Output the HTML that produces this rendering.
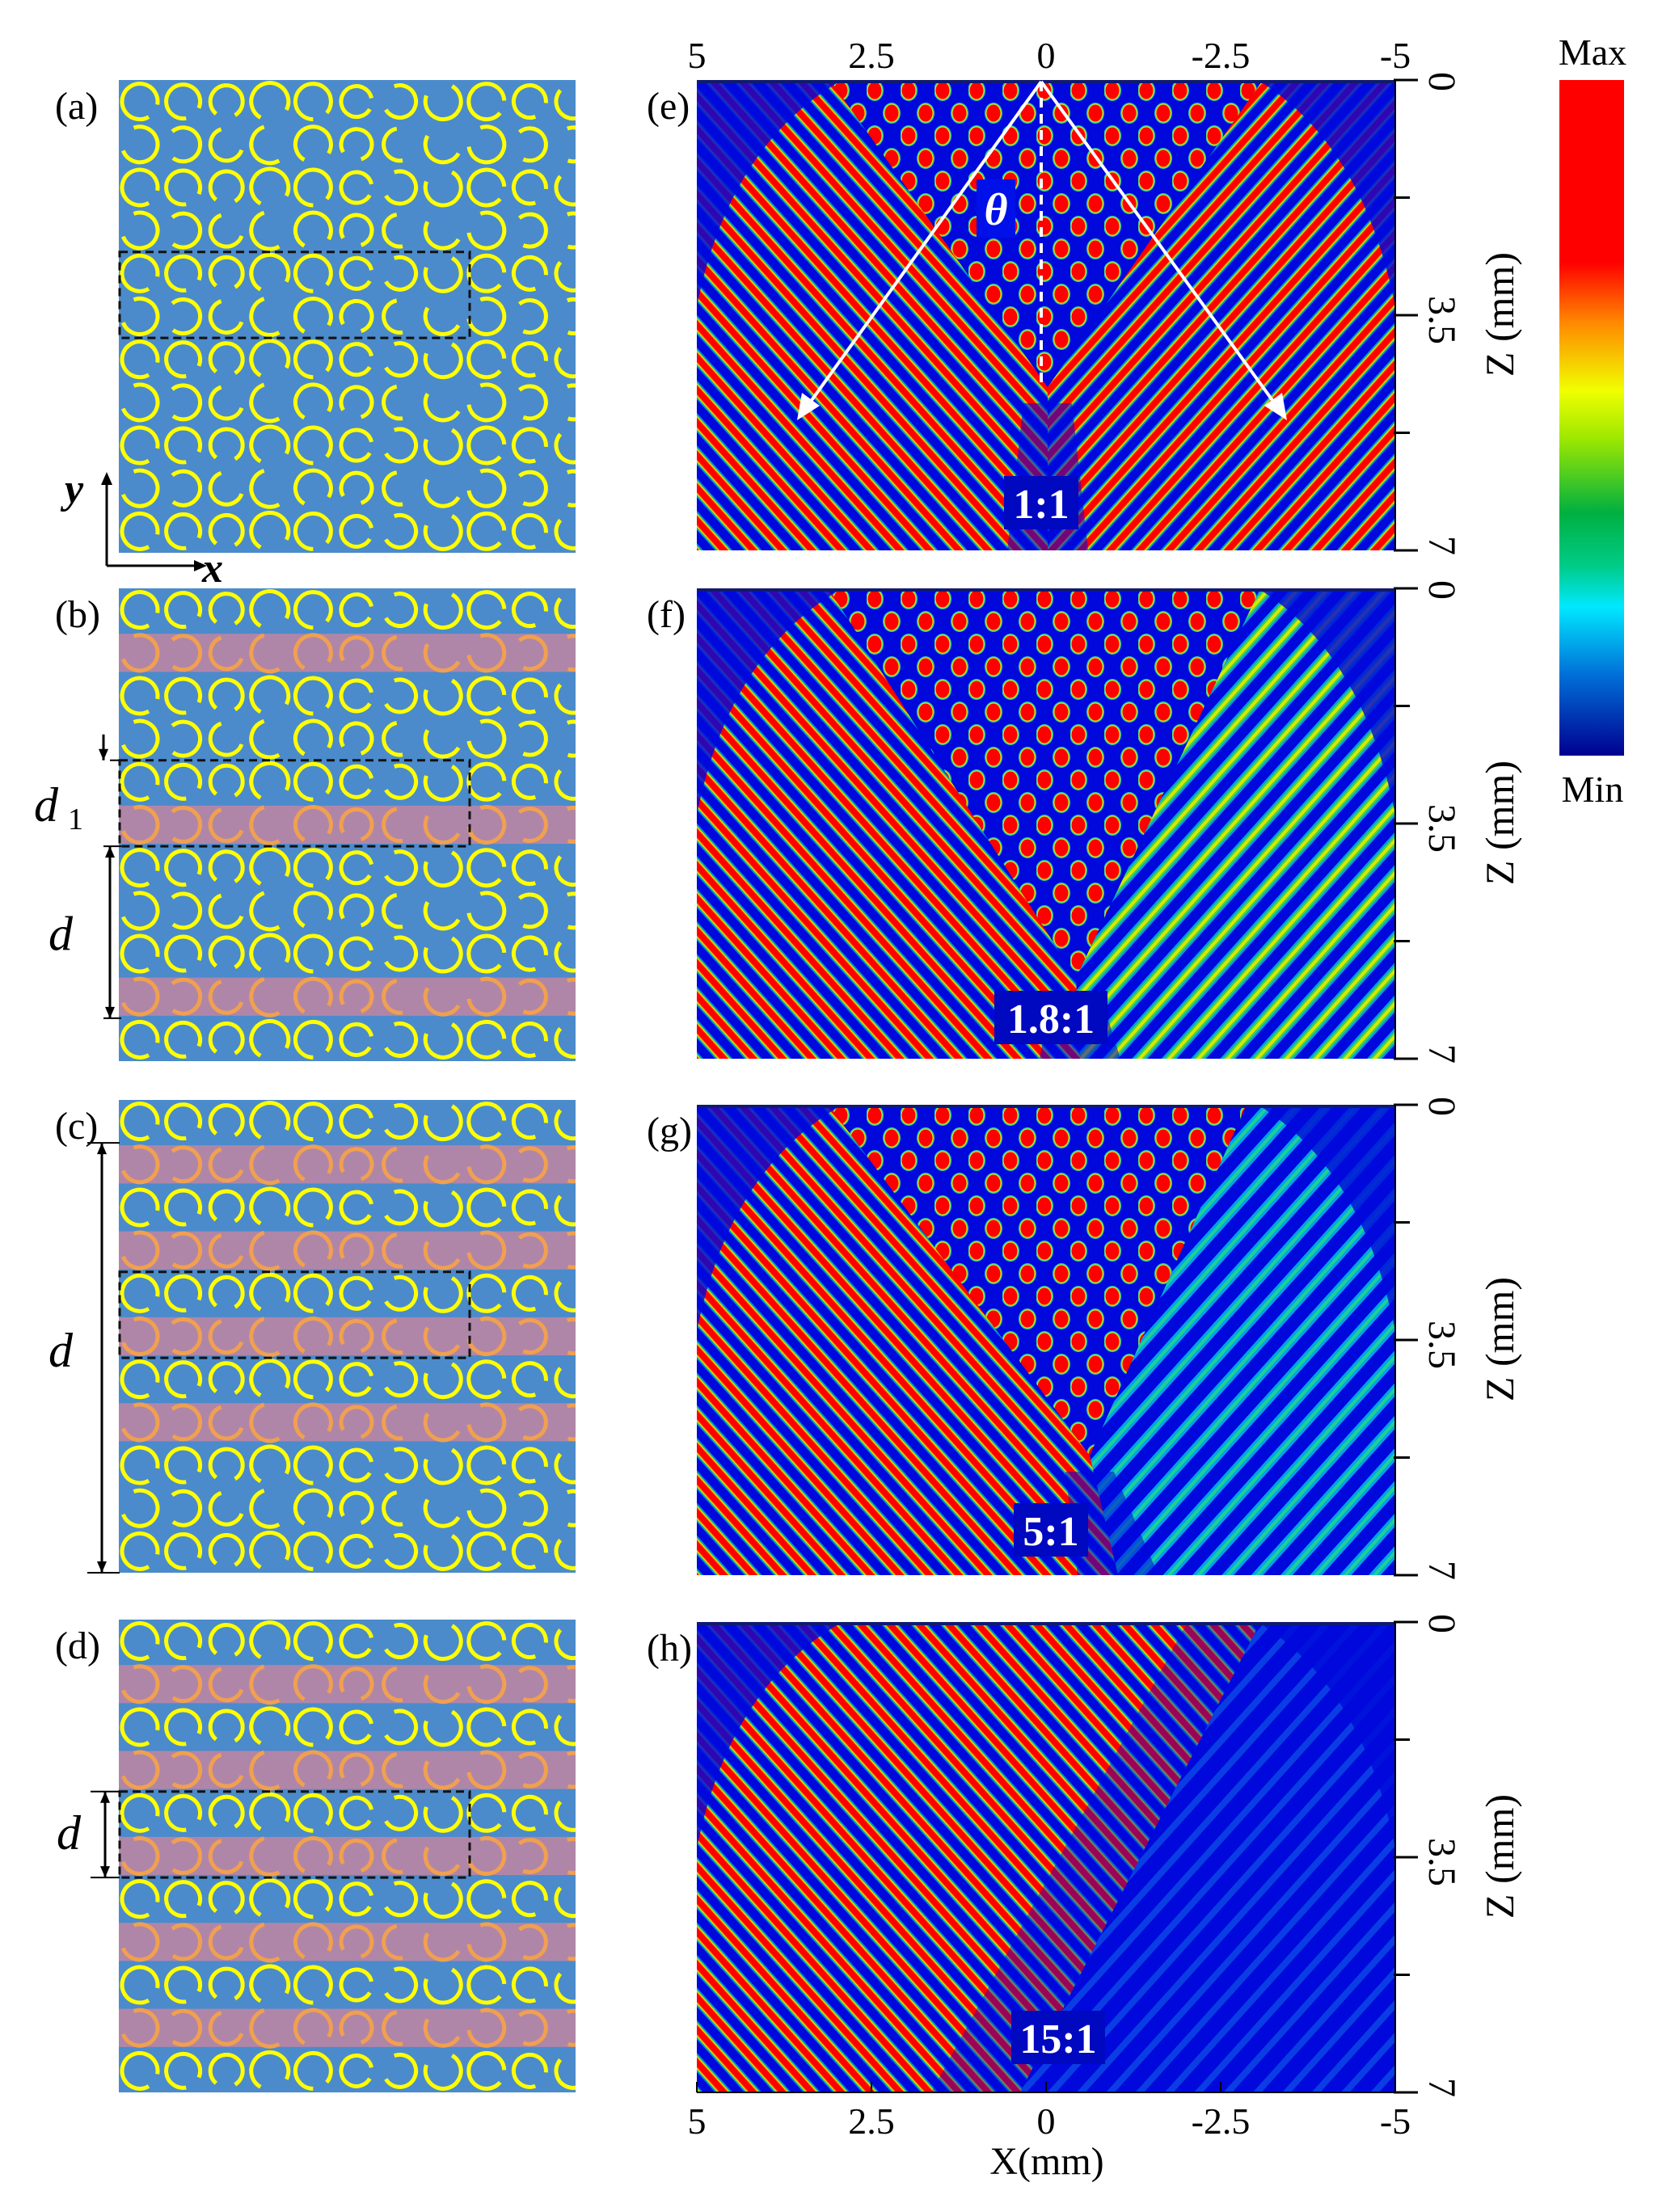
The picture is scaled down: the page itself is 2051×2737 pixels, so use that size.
<!DOCTYPE html>
<html><head><meta charset="utf-8"><style>
html,body{margin:0;padding:0;background:#fff;}
svg{display:block;}
text{font-family:"Liberation Serif",serif;}
</style></head><body>
<svg id="s" xmlns="http://www.w3.org/2000/svg" width="2051" height="2737" viewBox="0 0 2051 2737">
<defs>
<linearGradient id="cb" x1="0" y1="0" x2="0" y2="1">
<stop offset="0" stop-color="#ff0000"/><stop offset="0.27" stop-color="#ff0000"/>
<stop offset="0.36" stop-color="#ff8a00"/><stop offset="0.46" stop-color="#f0ff00"/>
<stop offset="0.53" stop-color="#9ee800"/><stop offset="0.64" stop-color="#00b040"/>
<stop offset="0.72" stop-color="#00cc88"/><stop offset="0.78" stop-color="#00e8ff"/>
<stop offset="0.88" stop-color="#0070d8"/><stop offset="1" stop-color="#000090"/>
</linearGradient>
<clipPath id="lp"><rect x="147" y="0" width="565" height="2737"/></clipPath>
<pattern id="pL" patternUnits="userSpaceOnUse" width="64" height="27" patternTransform="rotate(48)">
<line x1="0" y1="13.5" x2="64" y2="13.5" stroke="#00e0e0" stroke-width="16" opacity="0.6"/>
<line x1="0" y1="13.5" x2="64" y2="13.5" stroke="#40d050" stroke-width="13"/>
<line x1="0" y1="13.5" x2="64" y2="13.5" stroke="#e8e800" stroke-width="11"/>
<line x1="0" y1="13.5" x2="64" y2="13.5" stroke="#ff5000" stroke-width="9"/>
<line x1="0" y1="13.5" x2="64" y2="13.5" stroke="#ff0000" stroke-width="7"/>
</pattern>
<pattern id="pR" patternUnits="userSpaceOnUse" width="64" height="27" patternTransform="rotate(-48)">
<line x1="0" y1="13.5" x2="64" y2="13.5" stroke="#00e0e0" stroke-width="16" opacity="0.6"/>
<line x1="0" y1="13.5" x2="64" y2="13.5" stroke="#40d050" stroke-width="13"/>
<line x1="0" y1="13.5" x2="64" y2="13.5" stroke="#e8e800" stroke-width="11"/>
<line x1="0" y1="13.5" x2="64" y2="13.5" stroke="#ff5000" stroke-width="9"/>
<line x1="0" y1="13.5" x2="64" y2="13.5" stroke="#ff0000" stroke-width="7"/>
</pattern>
<pattern id="pRm" patternUnits="userSpaceOnUse" width="64" height="27" patternTransform="rotate(-48)">
<line x1="0" y1="13.5" x2="64" y2="13.5" stroke="#00e0e0" stroke-width="14" opacity="0.7"/>
<line x1="0" y1="13.5" x2="64" y2="13.5" stroke="#40d050" stroke-width="9"/>
<line x1="0" y1="13.5" x2="64" y2="13.5" stroke="#d8e800" stroke-width="4"/>
</pattern>
<pattern id="pRw" patternUnits="userSpaceOnUse" width="64" height="27" patternTransform="rotate(-48)">
<line x1="0" y1="13.5" x2="64" y2="13.5" stroke="#00d8f0" stroke-width="11" opacity="0.75"/>
<line x1="0" y1="13.5" x2="64" y2="13.5" stroke="#20d090" stroke-width="4"/>
</pattern>
<pattern id="pRf" patternUnits="userSpaceOnUse" width="64" height="27" patternTransform="rotate(-48)">
<line x1="0" y1="13.5" x2="64" y2="13.5" stroke="#1aa0f0" stroke-width="8" opacity="0.35"/>
</pattern>
<pattern id="pC" patternUnits="userSpaceOnUse" width="42" height="56">
<ellipse cx="10" cy="13" rx="11" ry="13" fill="#30d0a0"/><ellipse cx="10" cy="13" rx="9.5" ry="11.5" fill="#e8e800"/><ellipse cx="10" cy="13" rx="8.5" ry="10.5" fill="#ff0000"/>
<ellipse cx="31" cy="41" rx="11" ry="13" fill="#30d0a0"/><ellipse cx="31" cy="41" rx="9.5" ry="11.5" fill="#e8e800"/><ellipse cx="31" cy="41" rx="8.5" ry="10.5" fill="#ff0000"/>
</pattern>
</defs>
<g id="root"></g>
</svg>
<script>
var R=document.getElementById('root');var h='';
function T(x,y,s,fs,extra){return '<text x="'+x+'" y="'+y+'" font-size="'+fs+'" '+(extra||'')+'>'+s+'</text>';}
var tops=[99,728,1361,2004];
var pinks=[[],[1,5,9],[1,3,5,7],[1,3,5,7,9]];
var labs=['(a)','(b)','(c)','(d)'];
var radii=[22,21,20,23,22,19,20,22,22,20,21];
var gapA=[60,80,130,120,90,30,250,300,40,70,300];
var gapB=[250,230,20,60,120,150,80,30,250,230,250];
var gapLen=[14,16,20,26,14,12,28,28,12,18,22];
var rh=585/11;
for(var p=0;p<4;p++){
 var T0=tops[p];
 h+='<rect x="147" y="'+T0+'" width="565" height="585" fill="#4b8bcb"/>';
 h+='<g clip-path="url(#lp)">';
 for(var r=0;r<11;r++){
  var pk=pinks[p].indexOf(r)>=0;
  var cy=T0+rh*(r+0.5);
  if(pk) h+='<rect x="147" y="'+(T0+rh*r+3)+'" width="565" height="'+(rh-6)+'" fill="#b086a8"/>';
  for(var c=0;c<11;c++){
   var cx=173+c*53.6; var rad=radii[c];
   var ga=(r%2==0?gapA[c]:gapB[c]); var gl=gapLen[c]*(r%2==0?1:1.8);
   var circ=2*Math.PI*rad; var dash=circ*(1-gl/100);
   h+='<circle cx="'+cx.toFixed(1)+'" cy="'+cy.toFixed(1)+'" r="'+rad+'" fill="none" stroke="'+(pk?'#f0a050':'#ffff00')+'" stroke-width="5" stroke-dasharray="'+dash.toFixed(1)+' '+(circ-dash).toFixed(1)+'" transform="rotate('+ga+' '+cx.toFixed(1)+' '+cy.toFixed(1)+')"/>';
  }
 }
 h+='</g>';
 h+='<rect x="148" y="'+(T0+rh*4)+'" width="433" height="'+(rh*2)+'" fill="none" stroke="#111" stroke-width="3" stroke-dasharray="10 6"/>';
 h+=T(68,T0+48,labs[p],48);
}
h+='<path d="M132 700 V592 M132 700 H248" stroke="#000" stroke-width="3" fill="none"/><path d="M132 584 l-7 16 h14z M256 700 l-16 -7 v14z" fill="#000"/>';
h+=T(80,622,'y',52,'font-style="italic" font-weight="bold"')+T(250,720,'x',52,'font-style="italic" font-weight="bold"');
var b=728;
function arr(x,y1,y2){var s='<line x1="'+x+'" y1="'+y1+'" x2="'+x+'" y2="'+y2+'" stroke="#000" stroke-width="3"/>';
 s+='<path d="M'+x+' '+y1+' l-6 14 h12z M'+x+' '+y2+' l-6 -14 h12z" fill="#000"/>';return s;}
h+='<line x1="136" y1="'+(b+rh*4)+'" x2="147" y2="'+(b+rh*4)+'" stroke="#000" stroke-width="2"/>';
h+='<line x1="128" y1="'+(b+rh*4-32)+'" x2="128" y2="'+(b+rh*4)+'" stroke="#000" stroke-width="3"/><path d="M128 '+(b+rh*4)+' l-6 -14 h12z" fill="#000"/>';
h+='<line x1="128" y1="'+(b+rh*6)+'" x2="150" y2="'+(b+rh*6)+'" stroke="#000" stroke-width="2"/>';
h+='<line x1="128" y1="'+(b+rh*10)+'" x2="150" y2="'+(b+rh*10)+'" stroke="#000" stroke-width="2"/>';
h+=arr(136,b+rh*6,b+rh*10);
h+=T(42,b+rh*5+22,'d',60,'font-style="italic"')+T(84,b+rh*5+32,'1',38);
h+=T(60,b+rh*8+22,'d',60,'font-style="italic"');
var c0=1361;
h+='<line x1="108" y1="'+(c0+rh)+'" x2="148" y2="'+(c0+rh)+'" stroke="#000" stroke-width="2"/><line x1="108" y1="'+(c0+585)+'" x2="148" y2="'+(c0+585)+'" stroke="#000" stroke-width="2"/>';
h+=arr(126,c0+rh,c0+585);
h+=T(60,c0+330,'d',60,'font-style="italic"');
var d0=2004;
h+='<line x1="112" y1="'+(d0+rh*4)+'" x2="148" y2="'+(d0+rh*4)+'" stroke="#000" stroke-width="2"/><line x1="112" y1="'+(d0+rh*6)+'" x2="148" y2="'+(d0+rh*6)+'" stroke="#000" stroke-width="2"/>';
h+=arr(130,d0+rh*4,d0+rh*6);
h+=T(70,d0+rh*5+18,'d',60,'font-style="italic"');

var HX=862,HW=864,HH=582;
var P=[
 {t:99,tl:165,tr:700,ax:434,ay:380,bx:434,rp:'pR',lab:'(e)',ratio:'1:1',rx:1288,ry:623},
 {t:728,tl:163,tr:697,ax:469,ay:482,bx:474,rp:'pRm',lab:'(f)',ratio:'1.8:1',rx:1300,ry:1260},
 {t:1367,tl:163,tr:680,ax:486,ay:434,bx:521,rp:'pRw',lab:'(g)',ratio:'5:1',rx:1300,ry:1894},
 {t:2007,tl:null,tr:697,ax:null,ay:null,bx:400,rp:'pRf',lab:'(h)',ratio:'15:1',rx:1309,ry:2522}
];
for(var i=0;i<4;i++){
 var q=P[i];
 h+='<g transform="translate('+HX+','+q.t+')">';
 h+='<rect width="'+HW+'" height="'+HH+'" fill="#0008dc"/>';
 if(q.ax!==null){
  h+='<polygon points="0,0 '+q.tl+',0 '+q.ax+','+q.ay+' '+q.bx+','+HH+' 0,'+HH+'" fill="url(#pL)"/>';
  h+='<polygon points="'+q.tr+',0 '+HW+',0 '+HW+','+HH+' '+q.bx+','+HH+' '+q.ax+','+q.ay+'" fill="url(#'+q.rp+')"/>';
  h+='<polygon points="'+q.tl+',0 '+q.tr+',0 '+q.ax+','+q.ay+'" fill="#0008dc"/>';
  h+='<polygon points="'+q.tl+',0 '+q.tr+',0 '+q.ax+','+q.ay+'" fill="url(#pC)"/>';
  h+='<polygon points="'+(q.ax-30)+','+(q.ay+20)+' '+(q.ax+30)+','+(q.ay+20)+' '+(q.bx+50)+','+HH+' '+(q.bx-50)+','+HH+'" fill="#0008dc" opacity="0.55"/>';
 } else {
  h+='<polygon points="0,0 '+q.tr+',0 '+q.bx+','+HH+' 0,'+HH+'" fill="url(#pL)"/>';
  h+='<polygon points="'+q.tr+',0 '+HW+',0 '+HW+','+HH+' '+q.bx+','+HH+'" fill="url(#pRf)"/>';
  h+='<polygon points="'+(q.tr-90)+',0 '+q.tr+',0 '+q.bx+','+HH+' '+(q.bx-110)+','+HH+'" fill="#0008dc" opacity="0.4"/>';
 }
 h+='<path d="M0,0 H180 Q40,80 0,280 Z" fill="#0008dc" opacity="0.82"/>';
 h+='<path d="M'+HW+',0 H'+(HW-170)+' Q'+(HW-40)+',80 '+HW+',280 Z" fill="#0008dc" opacity="0.82"/>';
 h+='<rect width="'+HW+'" height="4" fill="#101a70"/>';
 h+='</g>';
 var tw=q.ratio.length*24+20;
 h+='<rect x="'+(q.rx-tw/2)+'" y="'+(q.ry-34)+'" width="'+tw+'" height="66" fill="#0008c0"/>';
 h+=T(q.rx,q.ry+18,q.ratio,52,'fill="#fff" font-weight="bold" text-anchor="middle"');
 h+=T(800,q.t+48,q.lab,48);
 var ax=HX+HW;
 h+='<line x1="'+ax+'" y1="'+q.t+'" x2="'+ax+'" y2="'+(q.t+HH)+'" stroke="#000" stroke-width="2"/>';
 for(var k=0;k<5;k++){var yy=q.t+HH*k/4;var len=(k%2==0)?28:18;
  h+='<line x1="'+(ax-2)+'" y1="'+yy+'" x2="'+(ax+len)+'" y2="'+yy+'" stroke="#000" stroke-width="3"/>';}
 h+=T(1768,q.t+2,'0',48,'transform="rotate(90 1768 '+(q.t+2)+')" text-anchor="middle"');
 h+=T(1768,q.t+HH/2+6,'3.5',48,'transform="rotate(90 1768 '+(q.t+HH/2+6)+')" text-anchor="middle"');
 h+=T(1768,q.t+HH-6,'7',48,'transform="rotate(90 1768 '+(q.t+HH-6)+')" text-anchor="middle"');
 h+=T(1872,q.t+290,'Z (mm)',50,'transform="rotate(-90 1872 '+(q.t+290)+')" text-anchor="middle"');
}
h+='<line x1="1288" y1="101" x2="1288" y2="480" stroke="#fff" stroke-width="4" stroke-dasharray="12 8"/>';
h+='<line x1="1288" y1="101" x2="1002" y2="498" stroke="#fff" stroke-width="4"/><path d="M986 520 l6 -34 l22 16z" fill="#fff"/>';
h+='<line x1="1288" y1="101" x2="1576" y2="498" stroke="#fff" stroke-width="4"/><path d="M1592 520 l-6 -34 l-22 16z" fill="#fff"/>';
h+='<rect x="1208" y="222" width="48" height="72" fill="#0010e8"/>';
h+=T(1232,278,'θ',56,'fill="#fff" font-style="italic" font-weight="bold" text-anchor="middle"');
var xl=['5','2.5','0','-2.5','-5'];
for(var k=0;k<5;k++){var xx=HX+HW*k/4;
 h+=T(xx,84,xl[k],46,'text-anchor="middle"');
 h+=T(xx,2640,xl[k],46,'text-anchor="middle"');
 h+='<line x1="'+xx+'" y1="2589" x2="'+xx+'" y2="2576" stroke="#000" stroke-width="2"/>';}
h+='<line x1="'+HX+'" y1="2589" x2="'+(HX+HW)+'" y2="2589" stroke="#000" stroke-width="2"/>';
h+=T(1295,2690,'X(mm)',48,'text-anchor="middle"');
h+='<rect x="1929" y="99" width="80" height="836" fill="url(#cb)"/>';
h+=T(1970,80,'Max',46,'text-anchor="middle"');
h+=T(1970,992,'Min',46,'text-anchor="middle"');
R.innerHTML=h;
</script>
</body></html>
